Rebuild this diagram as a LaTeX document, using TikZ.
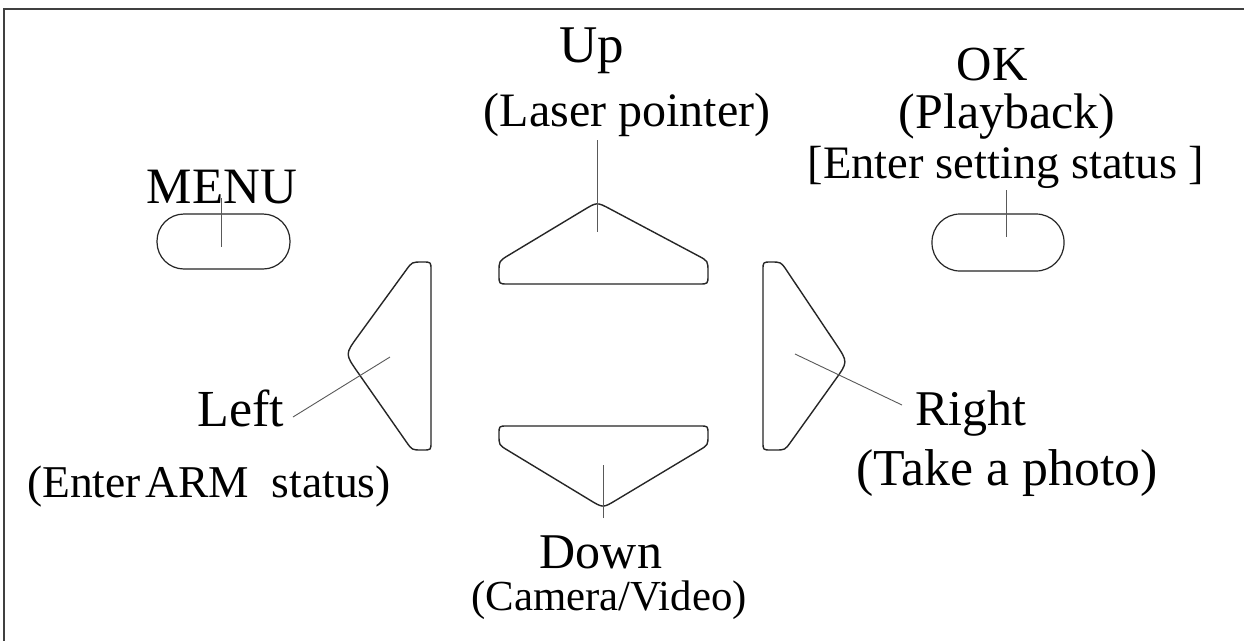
\documentclass[tikz,border=0pt]{standalone}
\usepackage{fontspec}
\setmainfont{Liberation Serif}
\usetikzlibrary{calc}
\begin{document}
\begin{tikzpicture}[x=1pt,y=-1pt,
  btn/.style={draw=black!85,line width=1.4pt,line join=round},
  lead/.style={draw=black!65,line width=0.9pt},
  lbl/.style={anchor=base,inner sep=0pt,outer sep=0pt,text=black},
  frameline/.style={draw=black!75,line width=2pt}]
\useasboundingbox (0,0) rectangle (1244,641);
\fill[white] (0,0) rectangle (1244,641);
\draw[frameline] (1244,9) -- (4,9) -- (4,641);

% ---- Up key
\coordinate (U1) at (499,284); \coordinate (U2) at (499,261);
\coordinate (U3) at (597,202); \coordinate (U4) at (708,261);
\coordinate (U5) at (708,284);
\draw[btn] ($(U1)!9pt!(U2)$) -- ($(U2)!11pt!(U1)$) .. controls (U2) .. ($(U2)!11pt!(U3)$)
  -- ($(U3)!15pt!(U2)$) .. controls (U3) .. ($(U3)!15pt!(U4)$)
  -- ($(U4)!11pt!(U3)$) .. controls (U4) .. ($(U4)!11pt!(U5)$)
  -- ($(U5)!9pt!(U4)$) .. controls (U5) .. ($(U5)!9pt!(U1)$)
  -- ($(U1)!9pt!(U5)$) .. controls (U1) .. ($(U1)!9pt!(U2)$) -- cycle;

% ---- Down key
\coordinate (D1) at (499,426); \coordinate (D2) at (708,426);
\coordinate (D3) at (708,445); \coordinate (D4) at (603,508);
\coordinate (D5) at (499,445);
\draw[btn] ($(D1)!8pt!(D2)$) -- ($(D2)!8pt!(D1)$) .. controls (D2) .. ($(D2)!8pt!(D3)$)
  -- ($(D3)!10pt!(D2)$) .. controls (D3) .. ($(D3)!10pt!(D4)$)
  -- ($(D4)!15pt!(D3)$) .. controls (D4) .. ($(D4)!15pt!(D5)$)
  -- ($(D5)!10pt!(D4)$) .. controls (D5) .. ($(D5)!10pt!(D1)$)
  -- ($(D1)!8pt!(D5)$) .. controls (D1) .. ($(D1)!8pt!(D2)$) -- cycle;

% ---- Left key
\coordinate (L1) at (431,262); \coordinate (L2) at (431,450);
\coordinate (L3) at (412,450); \coordinate (L4) at (345,354);
\coordinate (L5) at (412,262);
\draw[btn] ($(L1)!8pt!(L2)$) -- ($(L2)!8pt!(L1)$) .. controls (L2) .. ($(L2)!8pt!(L3)$)
  -- ($(L3)!10pt!(L2)$) .. controls (L3) .. ($(L3)!10pt!(L4)$)
  -- ($(L4)!22pt!(L3)$) .. controls (L4) .. ($(L4)!22pt!(L5)$)
  -- ($(L5)!10pt!(L4)$) .. controls (L5) .. ($(L5)!10pt!(L1)$)
  -- ($(L1)!8pt!(L5)$) .. controls (L1) .. ($(L1)!8pt!(L2)$) -- cycle;

% ---- Right key
\coordinate (R1) at (763,262); \coordinate (R2) at (781,262);
\coordinate (R3) at (848,362); \coordinate (R4) at (785,450);
\coordinate (R5) at (763,450);
\draw[btn] ($(R1)!8pt!(R2)$) -- ($(R2)!10pt!(R1)$) .. controls (R2) .. ($(R2)!10pt!(R3)$)
  -- ($(R3)!22pt!(R2)$) .. controls (R3) .. ($(R3)!22pt!(R4)$)
  -- ($(R4)!10pt!(R3)$) .. controls (R4) .. ($(R4)!10pt!(R5)$)
  -- ($(R5)!8pt!(R4)$) .. controls (R5) .. ($(R5)!8pt!(R1)$)
  -- ($(R1)!8pt!(R5)$) .. controls (R1) .. ($(R1)!8pt!(R2)$) -- cycle;

% ---- MENU and OK buttons
\draw[btn,line width=1.2pt,rounded corners=27pt] (157,214) rectangle (290,269);
\draw[btn,line width=1.2pt,rounded corners=28pt] (932,214) rectangle (1064,271);

% ---- labels
\node[lbl,font=\fontsize{53}{53}\selectfont] (up) at (592,62) {Up};
\node[lbl,font=\fontsize{48}{48}\selectfont] (laser) at (627,126) {(Laser pointer)};
\node[lbl,font=\fontsize{49}{49}\selectfont] (ok) at (992,80) {OK};
\node[lbl,font=\fontsize{50}{50}\selectfont] (play) at (1007,128) {(Playback)};
\node[lbl,font=\fontsize{46.5}{46.5}\selectfont] (setting) at (1006,178) {[Enter setting status ]};
\node[lbl,font=\fontsize{51}{51}\selectfont] (menu) at (222,203) {MENU};
\node[lbl,font=\fontsize{52}{52}\selectfont] (left) at (241,426) {Left};
\node[lbl,font=\fontsize{45.5}{45.5}\selectfont] (arm) at (209,497) {(Enter\hspace{0.1em}ARM\hspace{0.5em}status)};
\node[lbl,font=\fontsize{50}{50}\selectfont] (right) at (971,425) {Right};
\node[lbl,font=\fontsize{51.8}{51.8}\selectfont] (photo) at (1007,485) {(Take a photo)};
\node[lbl,font=\fontsize{50}{50}\selectfont] (down) at (601,568) {Down};
\node[lbl,font=\fontsize{42.8}{42.8}\selectfont] (camera) at (609,610) {(Camera/Video)};

% ---- leader lines
\coordinate (upA) at (597,140);  \coordinate (upB) at (597,232);
\coordinate (menuA) at (221,198); \coordinate (menuB) at (221,247);
\coordinate (okA) at (1006,190); \coordinate (okB) at (1006,237);
\coordinate (leftA) at (293,417); \coordinate (leftB) at (390,357);
\coordinate (rightA) at (902,405); \coordinate (rightB) at (795,354);
\coordinate (downA) at (603,518); \coordinate (downB) at (603,465);
\draw[lead] (upA) -- (upB);
\draw[lead] (menuA) -- (menuB);
\draw[lead] (okA) -- (okB);
\draw[lead] (leftA) -- (leftB);
\draw[lead] (rightA) -- (rightB);
\draw[lead] (downA) -- (downB);
\end{tikzpicture}
\end{document}
